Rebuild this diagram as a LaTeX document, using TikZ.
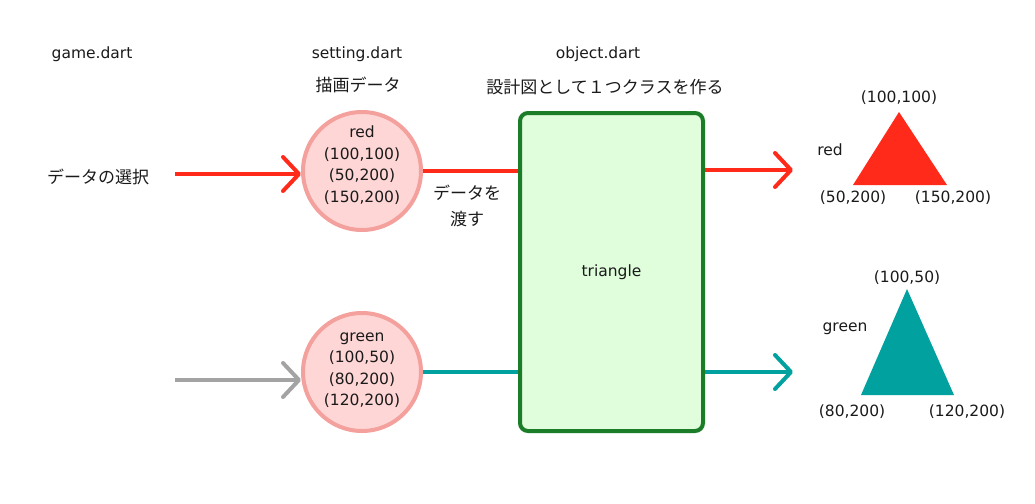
\documentclass[tikz,border=0pt]{standalone}
\usepackage{fontspec}
\setmainfont{DejaVu Sans}
\newfontfamily\jp{Noto Sans CJK JP}
\usetikzlibrary{arrows.meta}
\definecolor{redc}{HTML}{FF2A1A}
\definecolor{tealc}{HTML}{00A19E}
\definecolor{grayc}{HTML}{A3A3A3}
\definecolor{circfill}{HTML}{FFD6D6}
\definecolor{circstroke}{HTML}{F4A09C}
\definecolor{boxfill}{HTML}{E0FDDC}
\definecolor{boxstroke}{HTML}{1B7D27}
\definecolor{txt}{HTML}{1A1A1A}
\begin{document}
\begin{tikzpicture}[x=1pt,y=-1pt,
  font=\fontsize{15.5}{21.5}\selectfont,
  lbl/.style={inner sep=0pt, text=txt},
  jlbl/.style={lbl, font=\jp\fontsize{17}{26}\selectfont},
  datacirc/.style={circle, draw=circstroke, fill=circfill, line width=4pt, minimum size=118pt, inner sep=0pt},
  circtext/.style={lbl, align=center},
  classbox/.style={draw=boxstroke, fill=boxfill, line width=4pt, rounded corners=8pt, minimum width=183pt, minimum height=318pt, inner sep=0pt, text=txt},
  link/.style={line width=4pt},
  arr/.style={link, -{Straight Barb[length=16pt,width=34pt,line cap=round,line join=round]}}
]
\useasboundingbox (0,0) rectangle (1035,503);

% headers
\node[lbl] (hgame) at (92,54) {game.dart};
\node[lbl] (hset) at (357,54) {setting.dart};
\node[jlbl] (hsetj) at (358,85) {描画データ};
\node[lbl] (hobj) at (598,54) {object.dart};
\node[jlbl] (hobjj) at (605,87) {設計図として１つクラスを作る};
\node[jlbl] (sel) at (98,177) {データの選択};

% data circles
\node[datacirc] (c1) at (362,171) {};
\node[datacirc] (c2) at (362,372) {};
\node[circtext] (t1) at (362,165) {red\\(100,100)\\(50,200)\\(150,200)};
\node[circtext] (t2) at (362,370) {green\\(100,50)\\(80,200)\\(120,200)};

% class box
\node[classbox] (box) at (611.5,272) {triangle};

% connectors
\coordinate (in1) at (175,174);
\coordinate (in2) at (175,380);
\coordinate (o1) at (793,170);
\coordinate (o2) at (793,372);
\draw[arr, redc] (in1) -- (in1 -| c1.west);
\draw[arr, grayc] (in2) -- (in2 -| c2.west);
\draw[link, redc] (c1.east) -- (c1.east -| box.west);
\draw[link, tealc] (c2.east) -- (c2.east -| box.west);
\draw[arr, redc] (box.east |- o1) -- (o1);
\draw[arr, tealc] (box.east |- o2) -- (o2);

\node[jlbl, align=center] (pass) at (467,206) {データを\\渡す};

% red triangle
\coordinate (ra) at (899,112);
\coordinate (rb) at (853,185);
\coordinate (rc) at (947,185);
\fill[redc] (ra) -- (rb) -- (rc) -- cycle;
\node[lbl] (ral) at (899,98) {(100,100)};
\node[lbl] (rname) at (830,150) {red};
\node[lbl] (rbl) at (853,198) {(50,200)};
\node[lbl] (rcl) at (953,198) {(150,200)};

% teal triangle
\coordinate (ga) at (907,289);
\coordinate (gb) at (861,395);
\coordinate (gc) at (954,395);
\fill[tealc] (ga) -- (gb) -- (gc) -- cycle;
\node[lbl] (gal) at (907,278) {(100,50)};
\node[lbl] (gname) at (845,329) {green};
\node[lbl] (gbl) at (852,412) {(80,200)};
\node[lbl] (gcl) at (967,412) {(120,200)};
\end{tikzpicture}
\end{document}
